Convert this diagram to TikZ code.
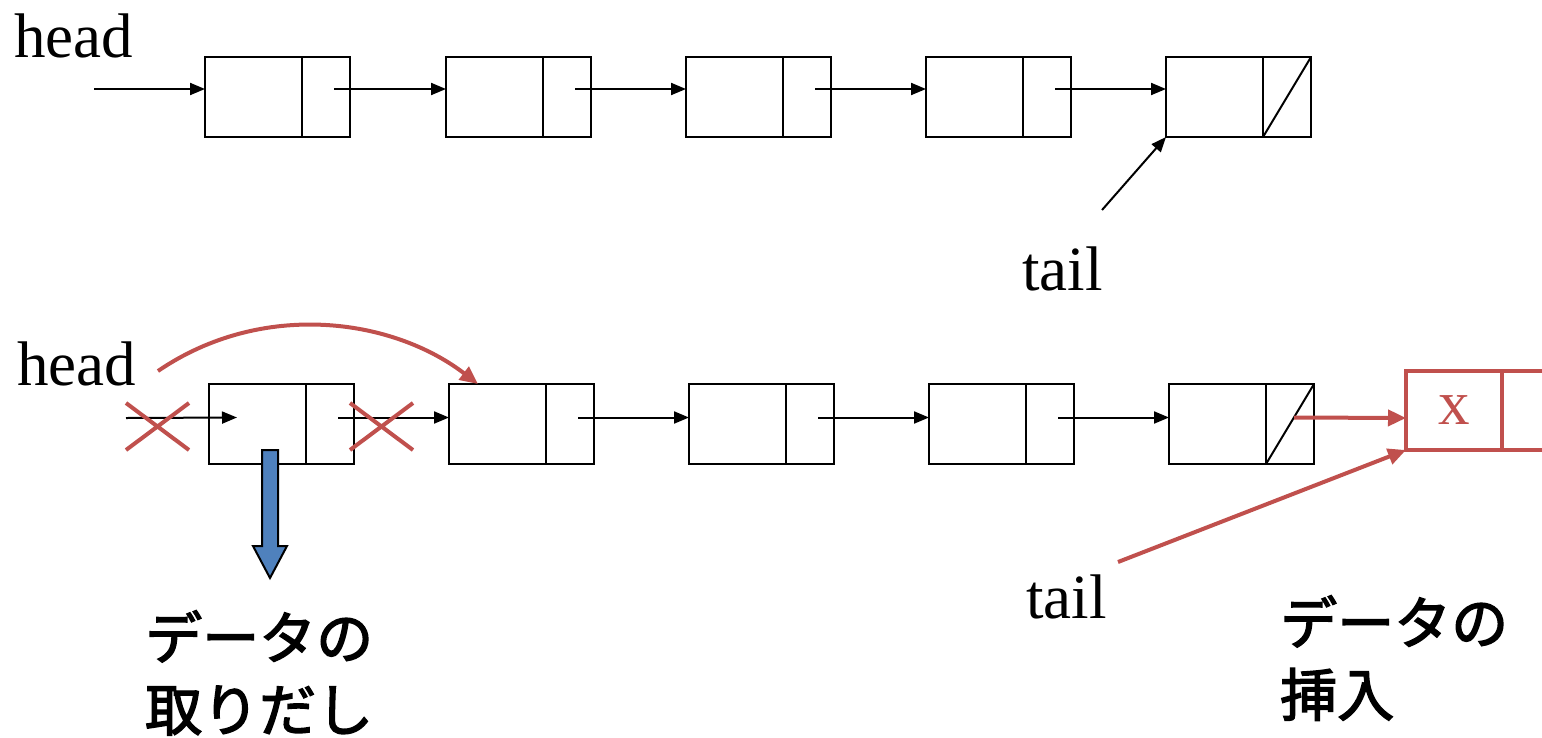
\documentclass[tikz,border=0pt]{standalone}
\usepackage{fontspec}
\setmainfont{Liberation Serif}
\newfontfamily\jp{Noto Sans CJK JP}[FakeBold=2.5]
\usetikzlibrary{arrows.meta,calc}
\definecolor{accentred}{RGB}{192,80,77}
\definecolor{accentblue}{RGB}{79,129,189}
\begin{document}
\begin{tikzpicture}[x=1pt,y=-1pt,
  datacell/.style={draw,line width=2pt,minimum width=97pt,minimum height=80pt,inner sep=0pt,outer sep=0pt,anchor=north west},
  ptrcell/.style={draw,line width=2pt,minimum width=48pt,minimum height=80pt,inner sep=0pt,outer sep=0pt,anchor=north west},
  link/.style={line width=2pt,-{Triangle[length=15pt,width=12pt]}},
  redlink/.style={draw=accentred,line width=4pt,-{Triangle[length=18pt,width=16pt]}},
  cross/.style={draw=accentred,line width=4pt},
  wordlabel/.style={font=\fontsize{63}{70}\selectfont,inner sep=0pt,anchor=base west},
  jplabel/.style={font=\jp\fontsize{57}{72}\selectfont,inner sep=0pt,anchor=base west,align=left}
]
\useasboundingbox (0,0) rectangle (1542,737);

% ---------- upper list ----------
\foreach \i/\x in {1/205,2/446,3/686,4/926,5/1166}{
  \node[datacell] (ta\i) at (\x,57) {};
  \node[ptrcell] (tp\i) at (ta\i.north east) {};
}
\foreach \i/\j in {1/2,2/3,3/4,4/5}{
  \draw[link] ([xshift=8pt,yshift=8pt]tp\i.center) -- ([yshift=8pt]ta\j.west);
}
\draw[line width=2pt] (tp5.south west) -- (tp5.north east);

\node[wordlabel] (thead) at (14,57) {head};
\coordinate (theadptr) at (94,89);
\draw[link] (theadptr) -- ([yshift=8pt]ta1.west);

\node[wordlabel] (ttail) at (1022,290) {tail};
\coordinate (ttailptr) at (1102,210);
\draw[link] (ttailptr) -- (ta5.south west);

% ---------- lower list ----------
\foreach \i/\x in {1/209,2/449,3/689,4/929,5/1169}{
  \node[datacell] (ba\i) at (\x,384) {};
  \node[ptrcell] (bp\i) at (ba\i.north east) {};
}
\foreach \i/\j in {1/2,2/3,3/4,4/5}{
  \draw[link] ([xshift=8pt,yshift=6.5pt]bp\i.center) -- ([yshift=6.5pt]ba\j.west);
}
\draw[line width=2pt] (bp5.south west) -- (bp5.north east);

\node[wordlabel] (bhead) at (17,385) {head};
\coordinate (bheadptr) at (126,418);
\draw[link] (bheadptr) -- ([xshift=28pt,yshift=6.5pt]ba1.west);

% removed links
\draw[cross] (126,403) -- (189,450) (126,450) -- (189,403);
\draw[cross] (350,403) -- (413,450) (350,450) -- (413,403);

% head moves to the second element
\coordinate (bheadnew) at (158,371);
\draw[redlink] (bheadnew) .. controls (262,300) and (392,318) .. ([xshift=29pt]ba2.north west);

% taken-out data
\draw[fill=accentblue,line width=2pt,line join=miter]
  (262,450) -- (278,450) -- (278,546) -- (287,546) -- (270,578) -- (253,546) -- (262,546) -- cycle;
\node[jplabel] (takeout) at (145,731) {データの\\取りだし};

% inserted element
\node[datacell,draw=accentred,line width=4pt,minimum width=96pt,minimum height=79pt,
      text=accentred,font=\fontsize{63}{70}\selectfont] (xa) at (1406,371) {\raisebox{-10pt}{x}};
\draw[accentred,line width=4pt] (xa.north east) -- (1542,371);
\draw[accentred,line width=4pt] (xa.south east) -- (1542,450);
\draw[redlink] ([xshift=4pt,yshift=6.5pt]bp5.center) -- ([yshift=-7.5pt]xa.west);

\node[wordlabel] (btail) at (1026,618) {tail};
\coordinate (btailptr) at (1118,562);
\draw[redlink] (btailptr) -- (xa.south west);

\node[jplabel] (insert) at (1280,716) {データの\\挿入};
\end{tikzpicture}
\end{document}
